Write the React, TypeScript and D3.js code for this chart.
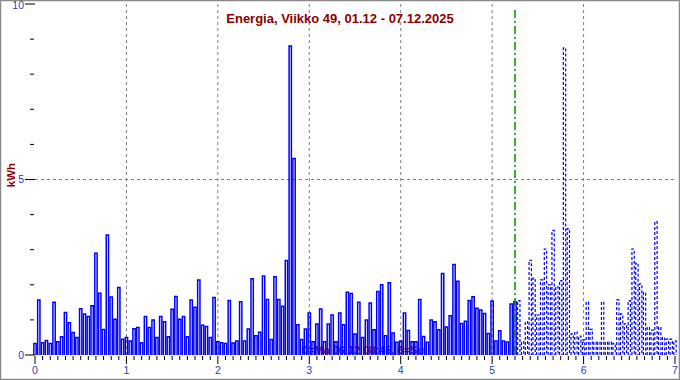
import React from "react";
import * as d3 from "d3";

// Hourly energy (kWh), Monday 01.12 00:00 onward
const mon = [0.33,1.57,0.35,0.41,0.33,1.5,0.38,0.52,1.21,0.92,0.64,0.5,1.32,1.17,1.1,1.4,2.9,1.76,0.73,3.42,1.65,1.02,1.92,0.45];
const tue = [0.5,0.4,0.75,0.78,0.35,1.1,0.78,1.0,0.5,1.1,0.95,0.52,1.3,1.67,1.02,1.1,0.52,1.57,1.36,2.14,0.85,0.81,0.5,1.64];
const wed = [0.38,0.35,0.33,1.55,0.34,0.4,1.52,0.4,0.74,2.17,0.55,0.65,2.25,1.58,0.44,2.23,1.58,1.39,2.69,8.8,5.6,0.86,0.44,0.74];
const thu = [1.2,0.38,0.88,1.31,0.38,0.88,1.14,0.38,1.2,0.86,1.79,1.75,0.6,1.5,0.5,1.0,1.48,0.72,1.81,2.0,0.55,2.06,0.63,0.36];
const fri = [0.4,1.2,0.7,0.38,0.38,1.58,0.53,0.36,1.0,0.95,0.72,2.32,0.8,1.12,2.58,2.1,0.9,0.96,1.55,1.66,1.33,1.28,1.18,0.61];
const satMeasured = [1.54,0.4,0.69,0.4,0.37,1.45,1.52];
// forecast (dashed)
const satForecast = [1.55,0.38,0.95,2.7,2.19,1.14,2.14,3.02,2.0,3.55,1.95,2.12,8.75,3.6,0.6,0.66,0.54];
const sunForecast = [0.43,1.51,0.73,0.37,0.37,1.51,0.37,0.37,0.33,1.57,1.17,0.89,1.55,3.02,2.62,2.03,1.78,0.79,0.71,3.8,0.79,0.5,0.45,0.45,0.4];

const dayTicks = [0, 1, 2, 3, 4, 5, 6, 7];
const yMajorTicks = [0, 5, 10];
const yMinorTicks = [1, 2, 3, 4, 6, 7, 8, 9];
const nowDay = 5.25;
const title = "Energia, Viikko 49, 01.12 - 07.12.2025";
const yLabel = "kWh";
const stamp = "0=Ma 06.12 08:45, 6=Su";

const measured = [...mon, ...tue, ...wed, ...thu, ...fri, ...satMeasured];
const forecast = [...satForecast, ...sunForecast];

const W = 680;
const H = 380;

export default function App() {
  const x = d3.scaleLinear().domain([0, 7]).range([35, 675]);
  const y = d3.scaleLinear().domain([0, 10]).range([355, 4]);
  const slot = (x(1) - x(0)) / 24;
  const hx = (h: number) => x(h / 24);

  const barPath = (h: number, v: number) => {
    const l = hx(h) - slot / 2 + 0.75;
    const r = hx(h) + slot / 2 - 0.75;
    const b = y(0);
    const t = y(v);
    return `M${l},${b}L${l},${t}L${r},${t}L${r},${b}`;
  };

  const minorX = d3.range(0, 7 * 24 + 1, 2).filter((h) => h % 24 !== 0);
  const labelColor = "#2a3cc0";
  const font = "'Liberation Sans', Arial, sans-serif";

  return (
    <>
      <style>{"body{margin:0}"}</style>
      <svg width={W} height={H} style={{ display: "block", background: "#fff" }}>
        <rect x={0.5} y={0.5} width={W - 1} height={H - 1} fill="none" stroke="#8a8a8a" strokeWidth={1.5} />

        {/* grid */}
        {dayTicks.filter((d) => d > 0 && d < 7).map((d) => (
          <line key={"g" + d} x1={x(d)} x2={x(d)} y1={y(10)} y2={y(0)} stroke="#808080" strokeWidth={1} strokeDasharray="3,3" />
        ))}
        <line x1={x(0)} x2={x(7)} y1={y(5)} y2={y(5)} stroke="#808080" strokeWidth={1} strokeDasharray="3,3" />

        {/* stamp text behind bars */}
        <text x={363} y={354} textAnchor="middle" fontFamily={font} fontWeight="bold" fontSize={11} fill="#a01010">
          {stamp}
        </text>

        {/* measured bars */}
        {measured.map((v, i) => (
          <path key={"m" + i} d={barPath(i, v)} fill="none" stroke="#0000ff" strokeWidth={1.5} />
        ))}
        {/* forecast bars */}
        {forecast.map((v, i) => (
          <path key={"f" + i} d={barPath(measured.length + i, v)} fill="none" stroke="#0000ff" strokeWidth={1.2} strokeDasharray="3,2" />
        ))}

        {/* now line */}
        <line x1={x(nowDay)} x2={x(nowDay)} y1={10} y2={y(0)} stroke="#009000" strokeWidth={1.5} strokeDasharray="8,3,2,3" />

        {/* y ticks */}
        {yMajorTicks.map((t) => (
          <g key={"ym" + t}>
            <line x1={25} x2={35} y1={y(t)} y2={y(t)} stroke="#000" strokeWidth={1} />
            <text x={24} y={Math.max(y(t), 5.5)} dy="0.35em" textAnchor="end" fontFamily={font} fontSize={10.5} fill={labelColor}>
              {t}
            </text>
          </g>
        ))}
        {yMinorTicks.map((t) => (
          <line key={"yn" + t} x1={30} x2={34} y1={y(t)} y2={y(t)} stroke="#000" strokeWidth={1} />
        ))}

        {/* x ticks */}
        {dayTicks.map((d) => (
          <g key={"xm" + d}>
            <line x1={x(d)} x2={x(d)} y1={356} y2={364} stroke="#000" strokeWidth={1} />
            <text x={x(d)} y={374} textAnchor="middle" fontFamily={font} fontSize={10.5} fill={labelColor}>
              {d}
            </text>
          </g>
        ))}
        {minorX.map((h) => (
          <line key={"xn" + h} x1={hx(h)} x2={hx(h)} y1={356} y2={360} stroke="#000" strokeWidth={1} />
        ))}

        {/* title and axis label */}
        <text x={340} y={22.5} textAnchor="middle" fontFamily={font} fontWeight="bold" fontSize={13} fill="#8b0000">
          {title}
        </text>
        <text transform={`translate(15,175) rotate(-90)`} textAnchor="middle" fontFamily={font} fontWeight="bold" fontSize={11.5} fill="#8b0000">
          {yLabel}
        </text>
      </svg>
    </>
  );
}
